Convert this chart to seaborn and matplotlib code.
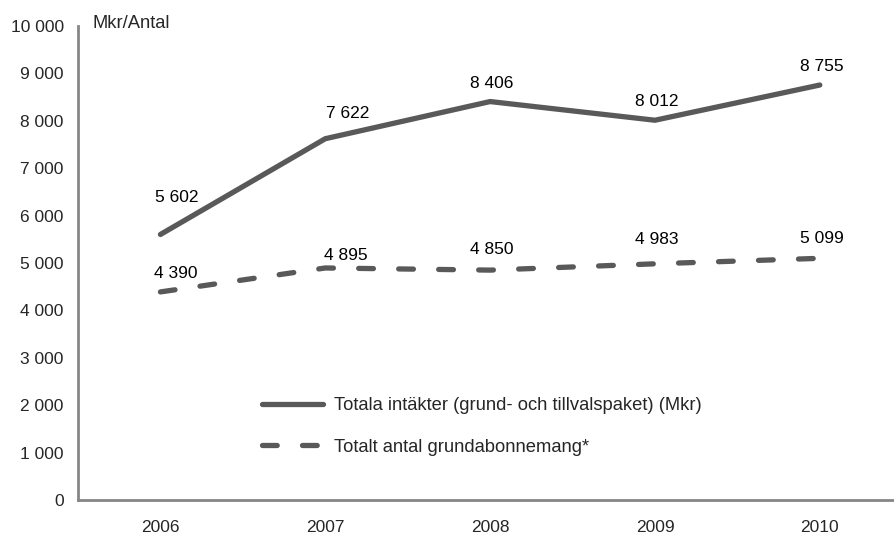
import pandas as pd
import numpy as np
import seaborn as sns
import matplotlib.pyplot as plt
from matplotlib.ticker import FuncFormatter, FixedLocator

years = ['2006', '2007', '2008', '2009', '2010']
intakter = [5602, 7622, 8406, 8012, 8755]
abonnemang = [4390, 4895, 4850, 4983, 5099]
serie_namn = ['Totala intäkter (grund- och tillvalspaket) (Mkr)', 'Totalt antal grundabonnemang*']

# label offsets in pixels (dx, dy)
off_intakter = [(16, 37), (22, 25), (2, 18), (2, 19), (2, 19)]
off_abonnemang = [(15, 18), (21, 12), (2, 21), (2, 24), (2, 20)]

sns.set_style('white')
plt.rcParams['font.family'] = ['Liberation Sans', 'DejaVu Sans']
plt.rcParams['font.size'] = 12.5
plt.rcParams['lines.scale_dashes'] = False

LW = 3.8
DASH = (10.6, 18.2)  # points, without caps

df = pd.DataFrame({
    'year': years * 2,
    'value': intakter + abonnemang,
    'serie': [serie_namn[0]] * 5 + [serie_namn[1]] * 5,
})

fig = plt.figure(figsize=(8.94, 5.34), dpi=100)
ax = fig.add_axes([78 / 894, 34 / 534, 816 / 894, 474 / 534])

sns.lineplot(data=df, x='year', y='value', style='serie', ax=ax,
             color='#595959', linewidth=LW, dashes=['', DASH],
             sort=False, legend=False)
lines = ax.get_lines()
for l, lab in zip(lines, serie_namn):
    l.set_solid_capstyle('round')
    l.set_dash_capstyle('round')
    l.set_label(lab)

fmt = lambda v: f'{int(v):,}'.replace(',', ' ')
for vals, offs in [(intakter, off_intakter), (abonnemang, off_abonnemang)]:
    for i, (v, (dx, dy)) in enumerate(zip(vals, offs)):
        ax.annotate(fmt(v), (i, v), xytext=(dx, dy), textcoords='offset pixels',
                    ha='center', va='center', fontsize=12.5, color='black')

ax.set_ylim(0, 10000)
ax.set_xlim(-0.5, 4.45)
ax.set_yticks(np.arange(0, 10001, 1000))
ax.yaxis.set_major_formatter(FuncFormatter(lambda v, p: fmt(v)))
ax.xaxis.set_minor_locator(FixedLocator([-0.5, 0.5, 1.5, 2.5, 3.5]))
ax.tick_params(axis='x', which='major', length=0, pad=14.5)
ax.tick_params(axis='x', which='minor', length=4, width=1.2, color='#868686', direction='out')
ax.tick_params(axis='y', length=4.3, width=1.5, color='#868686', direction='out', pad=6)
ax.tick_params(labelsize=12.5)
ax.set_xlabel('')
ax.set_ylabel('')

for s in ['top', 'right']:
    ax.spines[s].set_visible(False)
for s in ['left', 'bottom']:
    ax.spines[s].set_color('#868686')
    ax.spines[s].set_linewidth(2)

fig.text(93 / 894, 1 - 23 / 534, 'Mkr/Antal', ha='left', va='center', fontsize=13.2)

ax.legend(handles=lines[:2], loc='upper left', bbox_to_anchor=(262 / 894, 1 - 397 / 534),
          bbox_transform=fig.transFigure, frameon=False, handlelength=3.3,
          handletextpad=0.6, labelspacing=1.35, borderpad=0, borderaxespad=0,
          fontsize=13.2)

fig.savefig('out.png', dpi=100)
